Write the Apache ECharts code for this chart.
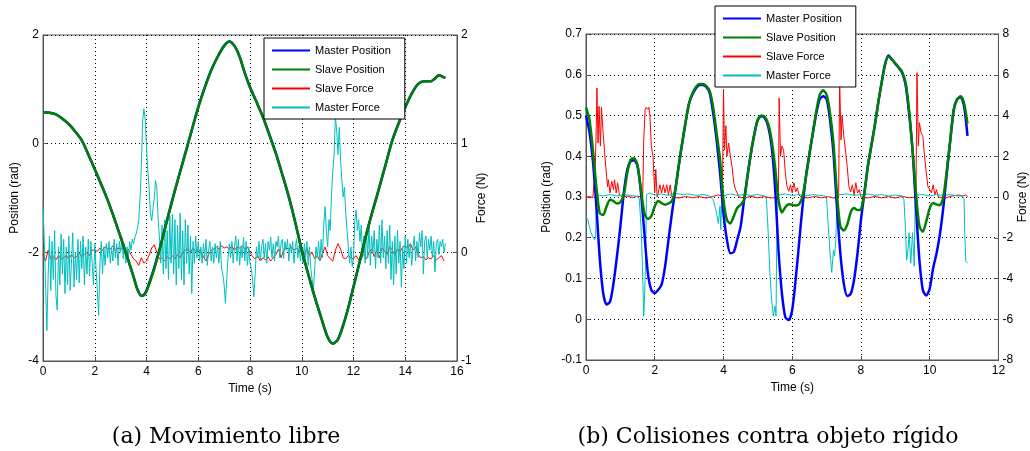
<!DOCTYPE html>
<html><head><meta charset="utf-8">
<script src="https://cdn.jsdelivr.net/npm/echarts@6/dist/echarts.min.js"></script>
<style>html,body{margin:0;padding:0;background:#fff}#c{width:1030px;height:451px}</style>
</head><body><div id="c"></div>
<script>
// ---------- (a) Movimiento libre ----------
// position samples [time s, rad]
const slavePosA = [[0,0.58],[0.25,0.57],[0.5,0.54],[0.75,0.46],[1.0,0.36],[1.25,0.22],[1.5,0.06],[1.75,-0.2],[2.0,-0.47],[2.25,-0.75],[2.5,-1.04],[2.75,-1.37],[3.0,-1.72],[3.25,-2.08],[3.5,-2.45],[3.65,-2.68],[3.8,-2.8],[3.9,-2.79],[4.0,-2.72],[4.25,-2.38],[4.5,-1.96],[4.75,-1.5],[5.0,-1.04],[5.25,-0.6],[5.5,-0.18],[5.75,0.25],[6.0,0.67],[6.25,1.03],[6.5,1.35],[6.75,1.6],[7.0,1.8],[7.2,1.88],[7.4,1.8],[7.6,1.6],[7.8,1.3],[8.0,1.04],[8.25,0.77],[8.5,0.49],[8.75,0.16],[9.0,-0.18],[9.25,-0.57],[9.5,-0.98],[9.75,-1.45],[10.0,-1.96],[10.25,-2.4],[10.5,-2.82],[10.75,-3.2],[11.0,-3.56],[11.2,-3.68],[11.4,-3.6],[11.6,-3.35],[11.8,-3.02],[12.0,-2.64],[12.25,-2.15],[12.5,-1.66],[12.75,-1.22],[13.0,-0.8],[13.25,-0.37],[13.5,0.06],[13.75,0.38],[14.0,0.67],[14.25,0.92],[14.5,1.1],[14.75,1.15],[15.0,1.15],[15.15,1.2],[15.3,1.26],[15.45,1.23],[15.55,1.21]];
const masterPosA = [[0,0.58],[0.25,0.57],[0.5,0.54],[0.75,0.46],[1.0,0.36],[1.25,0.22],[1.5,0.06],[1.75,-0.2],[2.0,-0.47],[2.25,-0.75],[2.5,-1.04],[2.75,-1.37],[3.0,-1.72],[3.25,-2.08],[3.5,-2.45],[3.65,-2.68],[3.8,-2.8],[3.9,-2.78],[4.0,-2.7],[4.25,-2.36],[4.5,-1.95],[4.75,-1.49],[5.0,-1.03],[5.25,-0.6],[5.5,-0.18],[5.75,0.25],[6.0,0.67],[6.25,1.03],[6.5,1.35],[6.75,1.6],[7.0,1.8],[7.2,1.88],[7.4,1.8],[7.6,1.6],[7.8,1.3],[8.0,1.04],[8.25,0.77],[8.5,0.49],[8.75,0.16],[9.0,-0.18],[9.25,-0.57],[9.5,-0.98],[9.75,-1.45],[10.0,-1.96],[10.25,-2.4],[10.5,-2.82],[10.75,-3.2],[11.0,-3.56],[11.2,-3.68],[11.4,-3.6],[11.6,-3.34],[11.8,-3.01],[12.0,-2.63],[12.25,-2.15],[12.5,-1.66],[12.75,-1.22],[13.0,-0.8],[13.25,-0.37],[13.5,0.06],[13.75,0.38],[14.0,0.67],[14.25,0.92],[14.5,1.1],[14.75,1.15],[15.0,1.15],[15.15,1.2],[15.3,1.26],[15.45,1.23],[15.55,1.21]];
// force samples, one every dtMasterA / dtSlaveA seconds (N)
const dtMasterA = 0.05;
const masterForceA = [
0.42,0.1,-0.3,-0.72,-0.2,0.15,-0.35,0.1,-0.25,0.2,
-0.4,-0.53,0.05,-0.3,0.17,-0.2,0.12,-0.38,0.05,-0.3,
0.15,-0.35,-0.1,0.18,-0.32,0.0,-0.25,0.12,-0.28,0.1,
-0.15,0.15,-0.3,0.05,-0.2,0.12,-0.22,0.1,-0.1,-0.3,0.08,-0.15,-0.35,-0.58,-0.1,0.1,-0.2,0.05,-0.12,0.08,
-0.05,0.1,-0.1,0.05,-0.08,0.12,-0.05,0.08,-0.12,0.1,0.0,0.14,-0.06,0.08,-0.1,0.05,-0.04,0.1,0.02,0.12,
0.08,0.14,0.17,0.22,0.3,0.5,0.78,1.21,1.32,1.22,0.97,0.75,0.6,0.36,0.29,0.4,0.5,0.66,0.58,0.3,
0.14,-0.1,0.25,-0.2,0.3,-0.15,0.2,-0.25,0.33,-0.1,
0.35,-0.2,0.3,-0.3,0.25,-0.15,0.36,-0.25,0.2,-0.3,0.3,-0.1,0.25,-0.2,0.15,-0.38,0.1,-0.1,0.15,-0.05,
0.1,-0.08,0.05,-0.1,0.08,-0.05,0.12,-0.12,0.02,0.1,-0.08,0.05,-0.1,0.08,-0.05,0.06,-0.1,0.1,-0.15,-0.2,
-0.3,-0.47,-0.25,-0.05,0.08,-0.05,0.1,-0.1,0.05,0.15,-0.08,0.12,-0.12,0.05,-0.05,0.14,-0.08,0.1,-0.12,0.05,
-0.1,-0.15,-0.25,-0.41,-0.2,0.05,-0.05,0.1,-0.08,0.05,0.12,-0.05,0.08,-0.1,0.1,0.02,0.14,-0.05,0.08,-0.08,
0.1,0.05,0.15,-0.05,0.08,0.12,-0.06,0.1,0.02,0.12,-0.08,0.08,0.0,0.1,-0.1,0.05,0.12,-0.05,0.06,-0.08,
0.05,-0.1,0.08,-0.05,0.1,-0.12,0.05,-0.15,-0.25,-0.35,-0.15,0.05,-0.05,0.1,-0.08,0.12,-0.05,0.25,0.42,0.2,
0.05,0.3,0.2,0.54,0.75,0.9,1.25,1.12,0.9,1.15,0.85,0.66,0.51,0.6,0.36,0.2,0.05,-0.1,0.05,-0.13,
-0.05,0.29,0.39,0.2,0.3,0.1,0.25,-0.05,0.15,-0.1,0.2,-0.05,0.25,-0.12,0.15,0.0,0.2,-0.15,0.12,-0.05,
0.25,-0.1,0.3,-0.05,0.15,-0.15,0.2,-0.1,0.25,-0.25,0.1,-0.3,0.15,-0.2,0.2,-0.1,0.1,-0.32,0.05,-0.15,
0.15,-0.1,0.12,-0.05,0.08,-0.12,0.05,0.15,-0.08,0.1,-0.05,0.18,0.05,0.2,-0.2,0.1,0.15,-0.05,0.12,0.02,
0.15,-0.05,0.1,-0.18,0.08,0.12,-0.02,0.1,0.05,0.12,0.0,0.08];
const dtSlaveA = 0.1;
const slaveForceA = [
-0.02,-0.08,0.02,-0.06,-0.04,-0.07,-0.03,-0.06,-0.05,-0.03,-0.06,-0.02,-0.05,-0.04,-0.01,-0.04,-0.02,0.0,-0.03,0.02,
0.02,0.01,0.04,0.02,0.05,0.03,0.03,0.06,0.02,0.04,0.03,0.04,0.0,0.03,-0.02,-0.06,-0.08,-0.12,-0.05,-0.1,
-0.08,-0.03,0.04,0.07,0.0,-0.06,-0.05,-0.08,-0.04,-0.06,-0.03,-0.06,-0.02,-0.05,0.0,0.02,0.03,0.0,0.04,0.01,
0.03,0.0,-0.04,-0.08,-0.02,0.02,0.03,0.05,0.03,0.06,0.04,0.05,0.03,0.06,0.02,0.05,0.04,0.06,0.03,0.05,
0.0,-0.04,-0.06,-0.03,-0.08,-0.05,-0.07,-0.04,-0.08,-0.05,-0.02,0.03,-0.05,0.02,0.04,0.03,0.05,0.02,0.04,0.0,
0.02,-0.02,0.04,-0.03,0.0,-0.06,-0.03,-0.08,-0.01,0.05,-0.03,-0.06,-0.08,0.02,0.08,0.03,-0.05,-0.06,-0.03,-0.05,
-0.06,-0.03,-0.07,-0.04,-0.02,-0.06,0.0,0.03,-0.04,0.02,-0.05,0.04,0.01,-0.02,0.05,0.02,-0.03,0.03,0.0,0.05,
0.06,0.04,0.08,0.02,0.05,-0.02,-0.05,-0.04,-0.07,-0.05,-0.06,-0.03,-0.07,-0.05,-0.03,-0.08];

// ---------- (b) Colisiones contra objeto rígido ----------
const dtPosB = 0.1;
const masterPosB = [
0.50,0.46,0.39,0.28,0.15,0.064,0.036,0.043,0.088,0.154,
0.228,0.31,0.367,0.388,0.39,0.375,0.31,0.21,0.113,0.072,
0.064,0.072,0.085,0.129,0.195,0.26,0.318,0.378,0.433,0.485,
0.53,0.552,0.567,0.575,0.575,0.57,0.555,0.506,0.44,0.36,
0.26,0.195,0.162,0.165,0.195,0.228,0.293,0.352,0.408,0.455,
0.49,0.498,0.494,0.474,0.425,0.326,0.17,0.064,0.005,-0.002,
0.023,0.097,0.187,0.277,0.35,0.405,0.457,0.505,0.54,0.547,
0.54,0.49,0.408,0.277,0.162,0.088,0.057,0.062,0.097,0.162,
0.244,0.31,0.375,0.425,0.474,0.53,0.58,0.625,0.647,0.638,
0.627,0.617,0.605,0.575,0.506,0.416,0.277,0.146,0.072,0.058,
0.075,0.125,0.162,0.21,0.277,0.36,0.44,0.514,0.54,0.545,
0.523,0.45];
const slavePosB = [
0.52,0.49,0.416,0.326,0.26,0.256,0.277,0.293,0.29,0.284,
0.287,0.306,0.359,0.392,0.395,0.378,0.318,0.26,0.246,0.253,
0.277,0.29,0.285,0.281,0.284,0.29,0.318,0.378,0.433,0.485,
0.53,0.555,0.57,0.577,0.577,0.572,0.56,0.52,0.457,0.392,
0.293,0.244,0.235,0.253,0.273,0.281,0.293,0.352,0.408,0.455,
0.49,0.5,0.497,0.48,0.44,0.375,0.293,0.262,0.275,0.282,
0.281,0.279,0.282,0.302,0.35,0.405,0.457,0.51,0.551,0.562,
0.551,0.506,0.433,0.31,0.228,0.218,0.232,0.262,0.273,0.268,
0.27,0.31,0.375,0.425,0.474,0.53,0.58,0.625,0.645,0.637,
0.628,0.618,0.607,0.58,0.514,0.416,0.31,0.228,0.215,0.24,
0.272,0.285,0.282,0.28,0.302,0.367,0.44,0.514,0.54,0.547,
0.53,0.48];
// force samples [time s, N]
const slaveForceB = [[0,0],[0.1,0.02],[0.2,-0.03],[0.25,0],[0.27,1.5],[0.3,3.5],[0.32,5.35],[0.35,2.65],[0.38,4.45],[0.42,2.5],[0.45,4.4],[0.5,3.1],[0.55,2.0],[0.6,1.0],[0.63,0.5],[0.65,0.85],[0.7,0.2],[0.75,0.77],[0.8,0.36],[0.83,0.85],[0.88,0.2],[0.92,0.7],[0.97,0.1],[1.05,0],[1.2,0.05],[1.35,-0.03],[1.5,0.04],[1.65,0],[1.68,2.8],[1.72,4.3],[1.75,4.4],[1.8,4.3],[1.83,4.4],[1.86,4.0],[1.9,2.5],[1.95,2.0],[2.0,0.2],[2.03,1.35],[2.07,0.0],[2.1,0.2],[2.15,0.6],[2.2,0.2],[2.25,0.6],[2.3,0.2],[2.35,0.6],[2.4,0.1],[2.45,0.6],[2.5,0],[2.7,-0.05],[2.9,0.03],[3.1,-0.04],[3.3,0.02],[3.5,-0.05],[3.7,0.03],[3.85,0.1],[3.97,0.05],[4.0,5.3],[4.03,2.3],[4.07,3.5],[4.1,2.0],[4.15,2.65],[4.2,2.0],[4.25,1.5],[4.3,0.7],[4.35,0.36],[4.4,0.2],[4.45,0],[4.6,-0.05],[4.8,0.03],[5.0,-0.04],[5.2,0.02],[5.4,-0.05],[5.6,0],[5.62,4.85],[5.66,2.0],[5.7,2.5],[5.75,2.3],[5.8,1.2],[5.85,0.5],[5.9,0.28],[5.95,0.6],[6.0,0.2],[6.05,0.7],[6.1,0.25],[6.15,0.45],[6.2,0.1],[6.25,0],[6.45,-0.05],[6.65,0.03],[6.85,-0.04],[7.05,0.02],[7.2,-0.05],[7.35,0],[7.38,5.75],[7.42,2.8],[7.45,4.0],[7.5,3.0],[7.55,2.3],[7.6,1.5],[7.65,0.5],[7.7,0.25],[7.75,0.6],[7.8,0.1],[7.85,0.7],[7.9,0.2],[7.95,0.36],[8.0,0],[8.2,-0.05],[8.4,0.03],[8.6,-0.04],[8.8,0.02],[9.0,-0.05],[9.2,0.03],[9.4,-0.04],[9.6,0],[9.63,6.1],[9.67,2.5],[9.7,3.65],[9.75,3.15],[9.8,3.0],[9.85,2.0],[9.9,1.2],[9.95,0.5],[10.0,0.5],[10.05,0.2],[10.1,0.6],[10.15,0.1],[10.2,0.36],[10.25,0],[10.45,-0.05],[10.65,0.05],[10.85,0.1],[10.95,0.05],[11.05,0.1],[11.1,0]];
const masterForceB = [[0,-0.95],[0.05,-1.1],[0.1,-1.45],[0.15,-1.75],[0.2,-1.95],[0.25,-2.1],[0.28,-2.0],[0.3,-0.13],[0.35,0.1],[0.5,0.05],[0.7,0.12],[0.9,0.05],[1.1,0.12],[1.3,0.08],[1.5,0.02],[1.55,-0.1],[1.6,-1.45],[1.63,-2.75],[1.66,-4.55],[1.68,-5.85],[1.7,-5.0],[1.73,-3.4],[1.76,0.1],[1.85,0.2],[2.0,0.1],[2.2,0.15],[2.4,0.08],[2.6,0.18],[2.8,0.12],[3.0,0.15],[3.2,0.08],[3.4,0.12],[3.6,0.05],[3.7,-0.13],[3.75,-0.45],[3.8,-0.8],[3.85,-1.3],[3.9,-0.45],[3.92,-1.6],[3.95,-0.3],[4.0,0.05],[4.2,0.15],[4.4,0.08],[4.6,0.12],[4.8,0.08],[5.0,0.12],[5.2,0.05],[5.25,-0.1],[5.3,-1.75],[5.35,-3.7],[5.4,-5.0],[5.45,-5.85],[5.5,-5.35],[5.53,-5.85],[5.56,-0.1],[5.6,0.1],[5.8,0.15],[6.0,0.08],[6.2,0.12],[6.4,0.05],[6.6,0.12],[6.8,0.08],[6.95,0.05],[7.0,-0.1],[7.05,-1.45],[7.1,-2.75],[7.15,-3.7],[7.2,-2.6],[7.23,-2.9],[7.27,-2.1],[7.3,-0.1],[7.35,0.1],[7.6,0.15],[7.8,0.08],[8.0,0.12],[8.2,0.15],[8.4,0.08],[8.6,0.12],[8.8,0.05],[9.0,0.1],[9.2,0.05],[9.25,-0.1],[9.3,-1.75],[9.33,-3.1],[9.37,-2.6],[9.4,-1.75],[9.45,-3.25],[9.5,-1.75],[9.55,-3.4],[9.58,-0.1],[9.62,0.1],[9.8,0.12],[10.0,0.05],[10.2,0.12],[10.4,0.08],[10.6,0.12],[10.8,0.05],[10.95,0.05],[11.0,-0.1],[11.02,-1.75],[11.05,-3.15],[11.1,-3.25]];

const seriesNames = ['Master Position','Slave Position','Slave Force','Master Force'];
const captions = ['(a) Movimiento libre','(b) Colisiones contra objeto rígido'];

const FONT = 'Liberation Sans, Arial, sans-serif';
const C_MP = '#0000ff', C_SP = '#008000', C_SF = '#ff0000', C_MF = '#00bfbf';

function sampled(arr, dt){ return arr.map((v,i)=>[+(i*dt).toFixed(3), v]); }

function xAx(gi, max, interval){
  return {type:'value', gridIndex:gi, min:0, max:max, interval:interval,
    name:'Time (s)', nameLocation:'middle', nameGap:22,
    nameTextStyle:{color:'#000', fontSize:12, fontFamily:FONT},
    axisLine:{show:true, onZero:false, lineStyle:{color:'#555', width:1}},
    axisTick:{show:true, inside:true, length:4, lineStyle:{color:'#555'}},
    axisLabel:{color:'#000', fontSize:12, fontFamily:FONT, margin:5},
    splitLine:{show:true, lineStyle:{color:'#000', width:1, type:[1,3]}}};
}
function yAx(gi, pos, min, max, interval, name, gap, split){
  return {type:'value', gridIndex:gi, position:pos, min:min, max:max, interval:interval,
    name:name, nameLocation:'middle', nameGap:gap, nameRotate:90,
    nameTextStyle:{color:'#000', fontSize:12, fontFamily:FONT},
    axisLine:{show:true, onZero:false, lineStyle:{color:'#555', width:1}},
    axisTick:{show:true, inside:true, length:4, lineStyle:{color:'#555'}},
    axisLabel:{color:'#000', fontSize:12, fontFamily:FONT, margin:4},
    splitLine:{show:split, lineStyle:{color:'#000', width:1, type:[1,3]}}};
}
function line(name, xi, yi, data, color, width, smooth){
  return {name:name, type:'line', xAxisIndex:xi, yAxisIndex:yi, data:data,
    showSymbol:false, symbol:'none', smooth:smooth, animation:false,
    lineStyle:{color:color, width:width}, itemStyle:{color:color}};
}
function legend(left, top){
  return {data:seriesNames, left:left, top:top, orient:'vertical',
    padding:[6,14,5,7], itemWidth:38, itemHeight:12, itemGap:6,
    borderColor:'#000', borderWidth:1, backgroundColor:'#fff',
    itemStyle:{color:'rgba(0,0,0,0)', borderColor:'rgba(0,0,0,0)', borderWidth:0, opacity:0},
    textStyle:{color:'#000', fontSize:11, fontFamily:FONT, lineHeight:13}, selectedMode:false};
}

const chart = echarts.init(document.getElementById('c'), null, {renderer:'canvas'});
chart.setOption({
  backgroundColor:'#fff',
  animation:false,
  grid:[
    {left:43, top:35, width:414, height:326, show:true, borderColor:'#555', borderWidth:1, backgroundColor:'transparent'},
    {left:586, top:34, width:414, height:326, show:true, borderColor:'#555', borderWidth:1, backgroundColor:'transparent'}
  ],
  xAxis:[xAx(0,16,2), xAx(1,12,2)],
  yAxis:[
    yAx(0,'left',-4,2,2,'Position (rad)',22,true),
    yAx(0,'right',-1,2,1,'Force (N)',17,false),
    yAx(1,'left',-0.1,0.7,0.1,'Position (rad)',33,true),
    yAx(1,'right',-8,8,2,'Force (N)',17,false)
  ],
  legend:[legend(264,38), legend(715,6)],
  series:[
    line('Slave Force',0,1,sampled(slaveForceA,dtSlaveA),C_SF,1,false),
    line('Master Force',0,1,sampled(masterForceA,dtMasterA),C_MF,1,false),
    line('Master Position',0,0,masterPosA,C_MP,2.5,0.3),
    line('Slave Position',0,0,slavePosA,C_SP,2.5,0.3),
    line('Slave Force',1,3,slaveForceB,C_SF,1,false),
    line('Master Force',1,3,masterForceB,C_MF,1,false),
    line('Master Position',1,2,sampled(masterPosB,dtPosB),C_MP,2.5,0.25),
    line('Slave Position',1,2,sampled(slavePosB,dtPosB),C_SP,2.5,0.25)
  ],
  graphic:[
    {type:'text', style:{text:captions[0], x:226, y:437, textAlign:'center', textVerticalAlign:'middle', fill:'#000', font:'22px "DejaVu Serif", serif'}},
    {type:'text', style:{text:captions[1], x:768, y:437, textAlign:'center', textVerticalAlign:'middle', fill:'#000', font:'22px "DejaVu Serif", serif'}}
  ]
});
</script></body></html>
